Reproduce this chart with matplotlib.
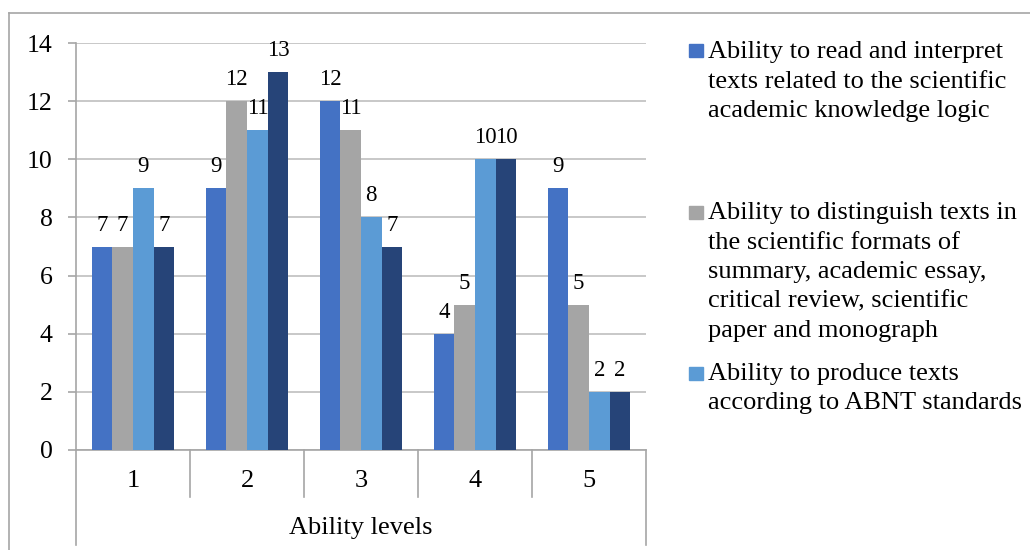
import matplotlib
matplotlib.use("Agg")
import matplotlib.pyplot as plt
from matplotlib.patches import Rectangle
from matplotlib.lines import Line2D
import numpy as np

plt.rcParams["font.family"] = ["Liberation Serif", "DejaVu Serif"]

# ability levels and counts per competence
levels = ["1", "2", "3", "4", "5"]
read_interpret = [7, 9, 12, 4, 9]
distinguish = [7, 12, 11, 5, 5]
produce_abnt = [9, 11, 8, 10, 2]
fourth_skill = [7, 13, 7, 10, 2]

series = [read_interpret, distinguish, produce_abnt, fourth_skill]
colors = ["#4472C4", "#A5A5A5", "#5B9BD5", "#264478"]
legend_lines = [
    ["Ability to read and interpret",
     "texts related to the scientific",
     "academic knowledge logic"],
    ["Ability to distinguish texts in",
     "the scientific formats of",
     "summary, academic essay,",
     "critical review, scientific",
     "paper and monograph"],
    ["Ability to produce texts",
     "according to ABNT standards"],
]
y_ticks = [0, 2, 4, 6, 8, 10, 12, 14]

GRID = "#BFBFBF"
AXIS = "#A6A6A6"

W, H = 1030, 550
fig = plt.figure(figsize=(W / 100, H / 100), dpi=100)
ax = fig.add_axes([76 / W, 1 - 450 / H, (646 - 76) / W, (450 - 43) / H])

x = np.arange(len(levels))
bw = 1 / 5.5
for j, (vals, c) in enumerate(zip(series, colors)):
    bars = ax.bar(x + (j - 1.5) * bw, vals, width=bw, color=c, zorder=3)
    for rect, v in zip(bars, vals):
        ax.annotate(str(v), (rect.get_x() + rect.get_width() / 2, v),
                    xytext=(0, 11.5), textcoords="offset points",
                    ha="center", va="baseline", fontsize=16.5, zorder=4)

ax.set_xlim(-0.5, len(levels) - 0.5)
ax.set_ylim(0, 14)
ax.set_yticks(y_ticks)
ax.tick_params(axis="y", length=5.8, width=1.2, color=AXIS, labelsize=18.5, pad=11)
ax.tick_params(axis="x", bottom=False, labelbottom=False)
ax.yaxis.grid(True, color=GRID, lw=1.2, zorder=0)
for s in ["top", "right"]:
    ax.spines[s].set_visible(False)
for s in ["left", "bottom"]:
    ax.spines[s].set_color(AXIS)
    ax.spines[s].set_linewidth(1.2)

# two-row category axis below the plot
trans = ax.get_xaxis_transform()
ph = 450 - 43
row1 = -(497 - 450) / ph
row2 = -(545 - 450) / ph
for b in np.arange(0.5, len(levels) - 1, 1.0):
    ax.add_line(Line2D([b, b], [0, row1], transform=trans, color=AXIS,
                       lw=1.2, clip_on=False))
for b in [-0.5, len(levels) - 0.5]:
    ax.add_line(Line2D([b, b], [0, row2], transform=trans, color=AXIS,
                       lw=1.2, clip_on=False))
for xi, lab in zip(x, levels):
    ax.text(xi, -(481 - 450) / ph, lab, transform=trans, ha="center",
            va="center", fontsize=19)
ax.text((len(levels) - 1) / 2, -(528 - 450) / ph, "Ability levels",
        transform=trans, ha="center", va="center", fontsize=19)

# legend entries, one text per line
first_baseline = [58.3, 219.3, 380]
marker_top = [44, 206, 367]
step = 29.3
for lines, c, yb, mt in zip(legend_lines, colors, first_baseline, marker_top):
    fig.patches.append(Rectangle((689 / W, 1 - (mt + 13) / H), 14 / W, 13 / H,
                                 transform=fig.transFigure, color=c))
    for k, line in enumerate(lines):
        fig.text(708 / W, 1 - (yb + k * step) / H, line, ha="left",
                 va="baseline", fontsize=19)

# chart area frame
fig.add_artist(Line2D([9 / W, 9 / W], [0, 1 - 13 / H], color=AXIS, lw=1.2))
fig.add_artist(Line2D([9 / W, 1], [1 - 13 / H, 1 - 13 / H], color=AXIS, lw=1.2))

fig.savefig("out.png", dpi=100)
